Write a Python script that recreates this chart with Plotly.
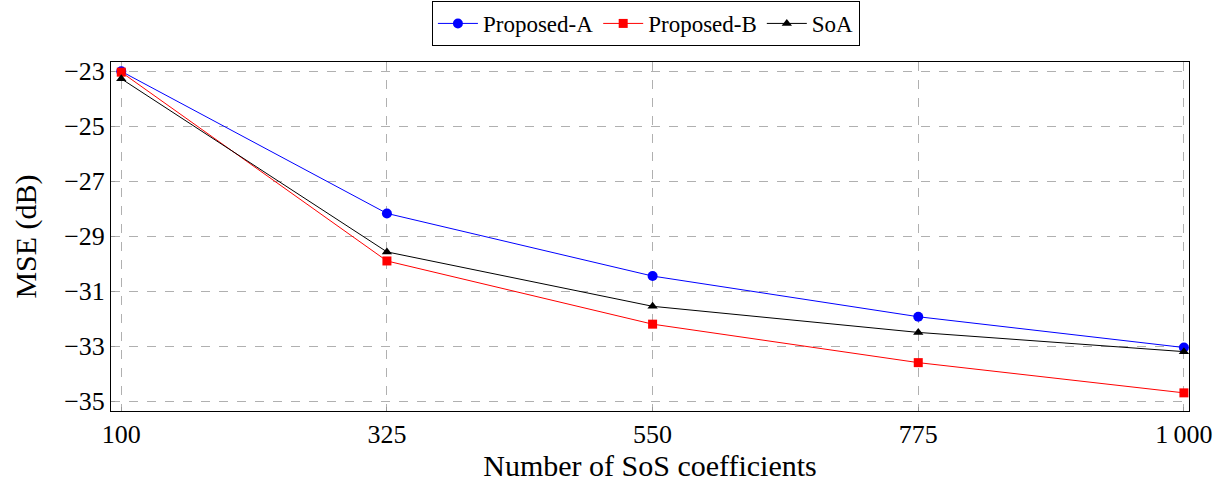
import plotly.graph_objects as go

x_vals = [100, 325, 550, 775, 1000]
x_ticktext = ["100", "325", "550", "775", "1\u2009000"]
proposed_a = [-23.0, -28.17, -30.45, -31.93, -33.05]
proposed_b = [-23.03, -29.9, -32.2, -33.6, -34.7]
soa = [-23.27, -29.57, -31.55, -32.5, -33.2]
y_ticks = [-23, -25, -27, -29, -31, -33, -35]

FONT = "Liberation Serif"

fig = go.Figure()
fig.add_trace(go.Scatter(x=x_vals, y=proposed_a, name="Proposed-A", mode="lines+markers",
                         line=dict(color="blue", width=1),
                         marker=dict(symbol="circle", size=10, color="blue")))
fig.add_trace(go.Scatter(x=x_vals, y=proposed_b, name="Proposed-B", mode="lines+markers",
                         line=dict(color="red", width=1),
                         marker=dict(symbol="square", size=9, color="red")))
fig.add_trace(go.Scatter(x=x_vals, y=soa, name="SoA", mode="lines+markers",
                         line=dict(color="black", width=1),
                         marker=dict(symbol="triangle-up", size=9, color="black")))

fig.update_layout(
    width=1228, height=484,
    margin=dict(l=111, r=39, t=62, b=73, autoexpand=False),
    paper_bgcolor="white", plot_bgcolor="white",
    font=dict(family=FONT, color="black"),
    legend=dict(orientation="h", x=0.526, xref="container", xanchor="center",
                y=0.998, yref="container", yanchor="top",
                bordercolor="black", borderwidth=1, bgcolor="white",
                font=dict(family=FONT, size=23), itemwidth=40,
                tracegroupgap=0),
    showlegend=True,
)

fig.update_xaxes(
    range=[91.3, 1004.3], tickvals=x_vals, ticktext=x_ticktext,
    showgrid=True, gridcolor="#b0b0b0", griddash="dash", gridwidth=1,
    showline=True, linecolor="black", linewidth=1, mirror=True,
    ticks="inside", ticklen=4, tickcolor="#999999",
    tickfont=dict(family=FONT, size=26), zeroline=False,
    title=dict(text="Number of SoS coefficients", font=dict(family=FONT, size=30), standoff=4),
)
fig.update_yaxes(
    range=[-35.36, -22.66], tickvals=y_ticks,
    showgrid=True, gridcolor="#b0b0b0", griddash="dash", gridwidth=1,
    showline=True, linecolor="black", linewidth=1, mirror=True,
    ticks="inside", ticklen=4, tickcolor="#999999",
    tickfont=dict(family=FONT, size=26), zeroline=False,
    title=dict(text="MSE (dB)", font=dict(family=FONT, size=30), standoff=18),
)

fig.write_html("out.html")
